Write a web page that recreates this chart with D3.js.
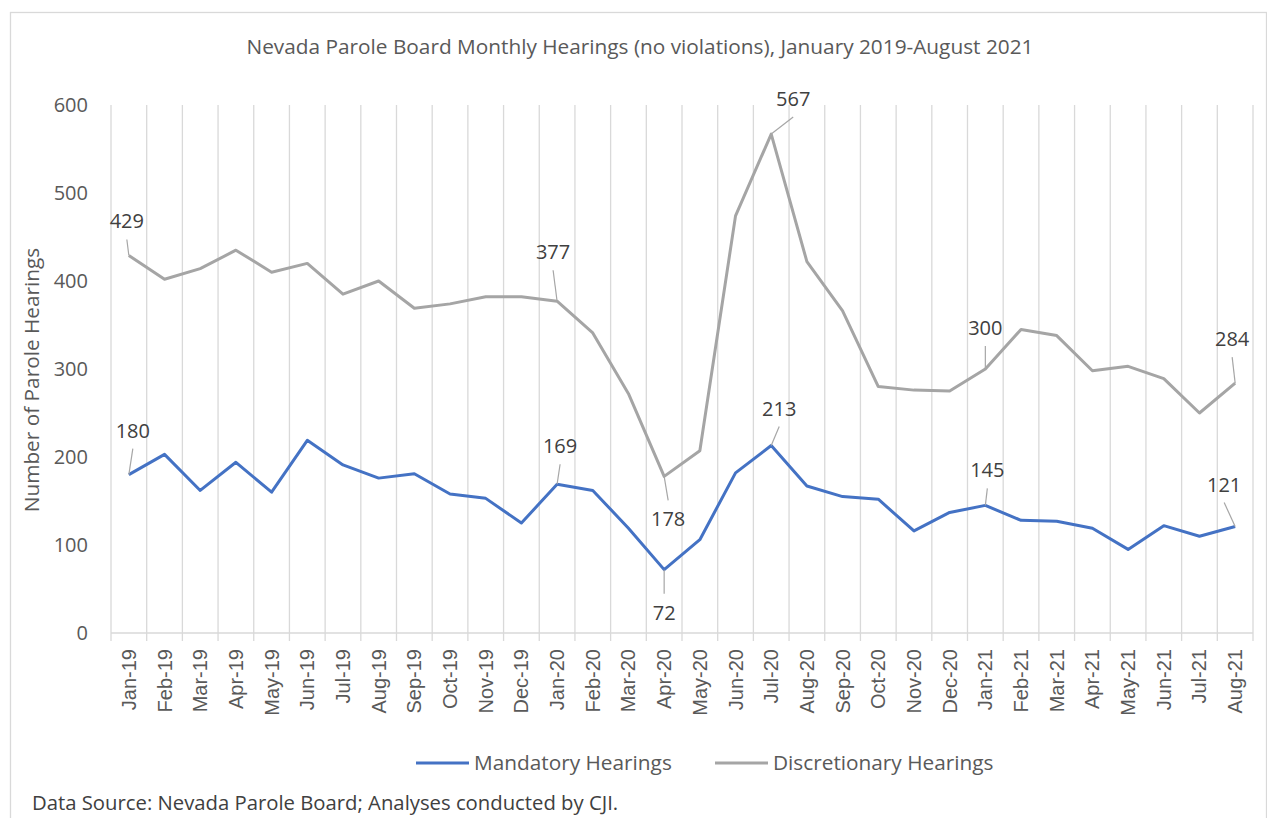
<!DOCTYPE html>
<html>
<head>
<meta charset="utf-8">
<script src="https://cdn.jsdelivr.net/npm/d3@7"></script>
<style>
    body { margin: 0; background: #fff; }
    svg { display: block; }
    .grid line { stroke: #d9d9d9; stroke-width: 1.3; }
    .ytick { font-family: "Open Sans", sans-serif; font-size: 20px; fill: #595959; }
    .xtick { font-family: "Liberation Sans", Arial, sans-serif; font-size: 20px; fill: #595959; }
    .dlabel { font-family: "Open Sans", sans-serif; font-size: 20px; fill: #404040; }
    .leader { stroke: #a6a6a6; stroke-width: 1.2; }
</style>
</head>
<body>
<svg id="chart" width="1267" height="818"></svg>
<script>
// values
var months = ['Jan-19', 'Feb-19', 'Mar-19', 'Apr-19', 'May-19', 'Jun-19', 'Jul-19', 'Aug-19',
    'Sep-19', 'Oct-19', 'Nov-19', 'Dec-19', 'Jan-20', 'Feb-20', 'Mar-20', 'Apr-20',
    'May-20', 'Jun-20', 'Jul-20', 'Aug-20', 'Sep-20', 'Oct-20', 'Nov-20', 'Dec-20',
    'Jan-21', 'Feb-21', 'Mar-21', 'Apr-21', 'May-21', 'Jun-21', 'Jul-21', 'Aug-21'];

var mandatory = [180, 203, 162, 194, 160, 219, 191, 176, 181, 158, 153, 125,
    169, 162, 119, 72, 106, 182, 213, 167, 155, 152, 116, 137,
    145, 128, 127, 119, 95, 122, 110, 121];

var discretionary = [429, 402, 414, 435, 410, 420, 385, 400, 369, 374, 382, 382,
    377, 341, 272, 178, 207, 474, 567, 422, 366, 280, 276, 275,
    300, 345, 338, 298, 303, 289, 250, 284];

var yTicks = [0, 100, 200, 300, 400, 500, 600];
var labeledMonths = ['Jan-19', 'Jan-20', 'Apr-20', 'Jul-20', 'Jan-21', 'Aug-21'];

var series = [
    {name: 'Mandatory Hearings', values: mandatory, color: '#4472c4'},
    {name: 'Discretionary Hearings', values: discretionary, color: '#a5a5a5'}
];

var svg = d3.select('#chart');

// outer chart frame
svg.append('rect')
    .attr('x', 10.5).attr('y', 12.5)
    .attr('width', 1256).attr('height', 830)
    .attr('fill', 'none')
    .attr('stroke', '#d9d9d9')
    .attr('stroke-width', 1.3);

svg.append('text')
    .attr('x', 640).attr('y', 54)
    .attr('text-anchor', 'middle')
    .style('font-family', '"Open Sans", sans-serif')
    .style('font-size', '20.8px')
    .style('fill', '#595959')
    .text('Nevada Parole Board Monthly Hearings (no violations), January 2019-August 2021');

var x = d3.scaleBand().domain(months).range([111, 1253]);
var y = d3.scaleLinear().domain([0, 600]).range([633, 105]);
var cx = function (m) { return x(m) + x.bandwidth() / 2; };

// vertical gridlines on category boundaries
var bounds = months.map(function (m) { return x(m); }).concat([x.range()[1]]);
var grid = svg.append('g').attr('class', 'grid');
grid.selectAll('.vline')
    .data(bounds)
    .enter().append('line')
    .attr('x1', function (d) { return d; }).attr('x2', function (d) { return d; })
    .attr('y1', y(600)).attr('y2', y(0) + 8);
grid.append('line')
    .attr('x1', x.range()[0]).attr('x2', x.range()[1])
    .attr('y1', y(0)).attr('y2', y(0));

svg.selectAll('.ytick')
    .data(yTicks)
    .enter().append('text')
    .attr('class', 'ytick')
    .attr('x', 88)
    .attr('y', function (d) { return y(d); })
    .attr('dy', '0.35em')
    .attr('text-anchor', 'end')
    .text(function (d) { return d; });

svg.selectAll('.xtick')
    .data(months)
    .enter().append('text')
    .attr('class', 'xtick')
    .attr('transform', function (d) { return 'translate(' + cx(d) + ',649) rotate(-90)'; })
    .attr('dy', '0.35em')
    .attr('text-anchor', 'end')
    .text(function (d) { return d; });

svg.append('text')
    .attr('transform', 'translate(39,380) rotate(-90)')
    .attr('text-anchor', 'middle')
    .style('font-family', '"Open Sans", sans-serif')
    .style('font-size', '20.8px')
    .style('fill', '#595959')
    .text('Number of Parole Hearings');

var line = d3.line()
    .x(function (d, i) { return cx(months[i]); })
    .y(function (d) { return y(d); });

svg.selectAll('.series')
    .data(series)
    .enter().append('path')
    .attr('class', 'series')
    .attr('d', function (s) { return line(s.values); })
    .attr('fill', 'none')
    .attr('stroke', function (s) { return s.color; })
    .attr('stroke-width', 3)
    .attr('stroke-linejoin', 'round');

// data label placement (text centre relative to the point)
var offsets = {
    'Mandatory Hearings': {'Jan-19': [4, -44], 'Jan-20': [3, -38], 'Apr-20': [0, 43],
        'Jul-20': [8, -37], 'Jan-21': [2, -35], 'Aug-21': [-11, -42]},
    'Discretionary Hearings': {'Jan-19': [-2, -34], 'Jan-20': [-4, -49], 'Apr-20': [4, 43],
        'Jul-20': [22, -35], 'Jan-21': [0, -41], 'Aug-21': [-3, -44]}
};

series.forEach(function (s) {
    labeledMonths.forEach(function (m) {
        var i = months.indexOf(m);
        var px = cx(m), py = y(s.values[i]);
        var off = offsets[s.name][m];
        var tx = px + off[0], ty = py + off[1];
        var ey = off[1] < 0 ? ty + 18 : ty - 19;
        svg.append('line')
            .attr('class', 'leader')
            .attr('x1', px).attr('y1', py)
            .attr('x2', tx).attr('y2', ey);
        svg.append('text')
            .attr('class', 'dlabel')
            .attr('x', tx).attr('y', ty)
            .attr('dy', '0.35em')
            .attr('text-anchor', 'middle')
            .text(s.values[i]);
    });
});

// legend
var legend = svg.selectAll('.legend')
    .data(series)
    .enter().append('g')
    .attr('class', 'legend')
    .attr('transform', function (d, i) { return 'translate(' + (416 + i * 299) + ',763)'; });
legend.append('line')
    .attr('x1', 0).attr('x2', 53)
    .attr('stroke', function (d) { return d.color; })
    .attr('stroke-width', 3);
legend.append('text')
    .attr('x', 58)
    .attr('dy', '0.35em')
    .style('font-family', '"Open Sans", sans-serif')
    .style('font-size', '20.8px')
    .style('fill', '#595959')
    .text(function (d) { return d.name; });

svg.append('text')
    .attr('x', 32).attr('y', 810)
    .style('font-family', '"Open Sans", sans-serif')
    .style('font-size', '20.3px')
    .style('fill', '#404040')
    .text('Data Source: Nevada Parole Board; Analyses conducted by CJI.');
</script>
</body>
</html>
